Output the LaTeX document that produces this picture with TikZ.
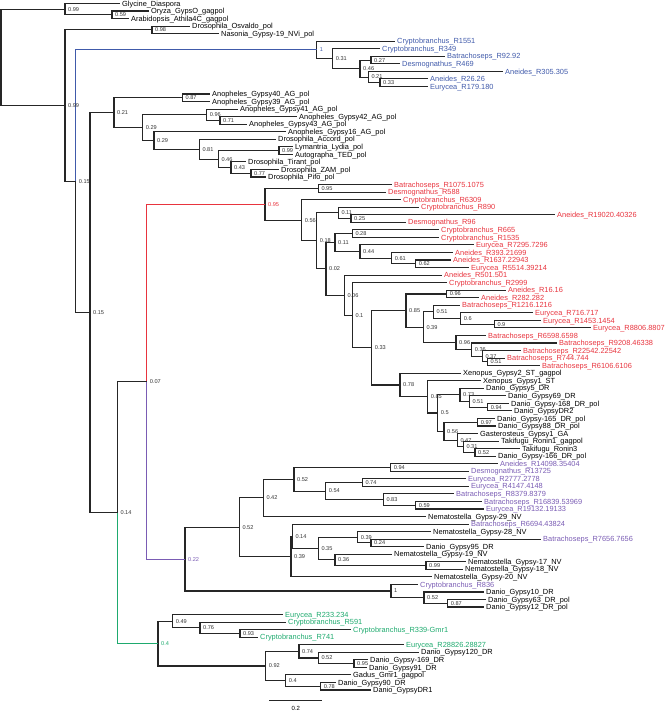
\documentclass[tikz,border=0pt]{standalone}
\usepackage{fontspec}
\setmainfont{Liberation Sans}
\usetikzlibrary{calc}
\definecolor{blueC}{RGB}{64,90,170}
\definecolor{redC}{RGB}{232,52,62}
\definecolor{purpC}{RGB}{122,92,180}
\definecolor{greenC}{RGB}{30,170,110}
\tikzset{
  tree/.style={line width=1.1pt, black!85, line cap=rect},
  stem/.style={line width=0.9pt},
  leafl/.style={anchor=west, inner sep=0pt, xshift=3pt, font=\fontsize{7.4}{8}\selectfont, text height=5.3pt, text depth=0pt},
  nlab/.style={anchor=west, inner sep=0pt, xshift=3pt, font=\fontsize{5.6}{6}\selectfont, text=black!80},
}
% leaf: name, index, tip x, colour, text
\newcommand\leafn[5]{%
  \coordinate (#1) at (#3,#2);
  \node[leafl, text=#4] (#1t) at (#1) {#5};}
% internal node: name, x, child1, child2, label, label style
\newcommand\inod[6]{%
  \path let \p1=(#3), \p2=(#4) in coordinate (#1) at (#2pt,{0.5*(\y1+\y2)});
  \draw[tree] (#3) -| (#1) |- (#4);
  \node[nlab,#6] (#1l) at (#1) {#5};}
% internal node with coloured stems: ... , style to child1, style to child2
\newcommand\cnod[8]{%
  \path let \p1=(#3), \p2=(#4) in coordinate (#1) at (#2pt,{0.5*(\y1+\y2)});
  \draw[tree,#7] (#1) |- (#3);
  \draw[tree,#8] (#1) |- (#4);
  \node[nlab,#6] (#1l) at (#1) {#5};}
\begin{document}
\begin{tikzpicture}[x=1pt,y=-7.544pt]
\useasboundingbox (0,0.536) rectangle (667,94.78);
% ---------------- leaves
\leafn{L1}{1}{119}{black}{Glycine\_Diaspora}
\leafn{L2}{2}{148}{black}{Oryza\_GypsO\_gagpol}
\leafn{L3}{3}{128}{black}{Arabidopsis\_Athila4C\_gagpol}
\leafn{L4}{4}{189}{black}{Drosophila\_Osvaldo\_pol}
\leafn{L5}{5}{218}{black}{Nasonia\_Gypsy-19\_NVi\_pol}
\leafn{L6}{6}{394}{blueC}{Cryptobranchus\_R1551}
\leafn{L7}{7}{379}{blueC}{Cryptobranchus\_R349}
\leafn{L8}{8}{444}{blueC}{Batrachoseps\_R92.92}
\leafn{L9}{9}{399}{blueC}{Desmognathus\_R469}
\leafn{L10}{10}{502}{blueC}{Aneides\_R305.305}
\leafn{L11}{11}{427}{blueC}{Aneides\_R26.26}
\leafn{L12}{12}{427}{blueC}{Eurycea\_R179.180}
\leafn{L13}{13}{209}{black}{Anopheles\_Gypsy40\_AG\_pol}
\leafn{L14}{14}{209}{black}{Anopheles\_Gypsy39\_AG\_pol}
\leafn{L15}{15}{237}{black}{Anopheles\_Gypsy41\_AG\_pol}
\leafn{L16}{16}{296}{black}{Anopheles\_Gypsy42\_AG\_pol}
\leafn{L17}{17}{246}{black}{Anopheles\_Gypsy43\_AG\_pol}
\leafn{L18}{18}{285}{black}{Anopheles\_Gypsy16\_AG\_pol}
\leafn{L19}{19}{275}{black}{Drosophila\_Accord\_pol}
\leafn{L20}{20}{292}{black}{Lymantria\_Lydia\_pol}
\leafn{L21}{21}{292}{black}{Autographa\_TED\_pol}
\leafn{L22}{22}{245}{black}{Drosophila\_Tirant\_pol}
\leafn{L23}{23}{278}{black}{Drosophila\_ZAM\_pol}
\leafn{L24}{24}{265}{black}{Drosophila\_Pifo\_pol}
\leafn{L25}{25}{391}{redC}{Batrachoseps\_R1075.1075}
\leafn{L26}{26}{385}{redC}{Desmognathus\_R588}
\leafn{L27}{27}{400}{redC}{Cryptobranchus\_R6309}
\leafn{L28}{28}{418}{redC}{Cryptobranchus\_R890}
\leafn{L29}{29}{554}{redC}{Aneides\_R19020.40326}
\leafn{L30}{30}{405}{redC}{Desmognathus\_R96}
\leafn{L31}{31}{438}{redC}{Cryptobranchus\_R665}
\leafn{L32}{32}{438}{redC}{Cryptobranchus\_R1535}
\leafn{L33}{33}{473}{redC}{Eurycea\_R7295.7296}
\leafn{L34}{34}{452}{redC}{Aneides\_R393.21699}
\leafn{L35}{35}{450}{redC}{Aneides\_R1637.22943}
\leafn{L36}{36}{468}{redC}{Eurycea\_R5514.39214}
\leafn{L37}{37}{441}{redC}{Aneides\_R501.501}
\leafn{L38}{38}{446}{redC}{Cryptobranchus\_R2999}
\leafn{L39}{39}{505}{redC}{Aneides\_R16.16}
\leafn{L40}{40}{478}{redC}{Aneides\_R282.282}
\leafn{L41}{41}{459}{redC}{Batrachoseps\_R1216.1216}
\leafn{L42}{42}{532}{redC}{Eurycea\_R716.717}
\leafn{L43}{43}{540}{redC}{Eurycea\_R1453.1454}
\leafn{L44}{44}{590}{redC}{Eurycea\_R8806.8807}
\leafn{L45}{45}{485}{redC}{Batrachoseps\_R6598.6598}
\leafn{L46}{46}{556}{redC}{Batrachoseps\_R9208.46338}
\leafn{L47}{47}{520}{redC}{Batrachoseps\_R22542.22542}
\leafn{L48}{48}{504}{redC}{Batrachoseps\_R744.744}
\leafn{L49}{49}{539}{redC}{Batrachoseps\_R6106.6106}
\leafn{L50}{50}{460}{black}{Xenopus\_Gypsy2\_ST\_gagpol}
\leafn{L51}{51}{480}{black}{Xenopus\_Gypsy1\_ST}
\leafn{L52}{52}{483}{black}{Danio\_Gypsy5\_DR}
\leafn{L53}{53}{505}{black}{Danio\_Gypsy69\_DR}
\leafn{L54}{54}{508}{black}{Danio\_Gypsy-168\_DR\_pol}
\leafn{L55}{55}{511}{black}{Danio\_GypsyDR2}
\leafn{L56}{56}{494}{black}{Danio\_Gypsy-165\_DR\_pol}
\leafn{L57}{57}{495}{black}{Danio\_Gypsy88\_DR\_pol}
\leafn{L58}{58}{477}{black}{Gasterosteus\_Gypsy1\_GA}
\leafn{L59}{59}{498}{black}{Takifugu\_Ronin1\_gagpol}
\leafn{L60}{60}{519}{black}{Takifugu\_Ronin3}
\leafn{L61}{61}{495}{black}{Danio\_Gypsy-166\_DR\_pol}
\leafn{L62}{62}{497}{purpC}{Aneides\_R14098.35404}
\leafn{L63}{63}{468}{purpC}{Desmognathus\_R13725}
\leafn{L64}{64}{465}{purpC}{Eurycea\_R2777.2778}
\leafn{L65}{65}{468}{purpC}{Eurycea\_R4147.4148}
\leafn{L66}{66}{453}{purpC}{Batrachoseps\_R8379.8379}
\leafn{L67}{67}{481}{purpC}{Batrachoseps\_R16839.53969}
\leafn{L68}{68}{483}{purpC}{Eurycea\_R19132.19133}
\leafn{L69}{69}{425}{black}{Nematostella\_Gypsy-29\_NV}
\leafn{L70}{70}{468}{purpC}{Batrachoseps\_R6694.43824}
\leafn{L71}{71}{430}{black}{Nematostella\_Gypsy-28\_NV}
\leafn{L72}{72}{540}{purpC}{Batrachoseps\_R7656.7656}
\leafn{L73}{73}{423}{black}{Danio\_Gypsy95\_DR}
\leafn{L74}{74}{391}{black}{Nematostella\_Gypsy-19\_NV}
\leafn{L75}{75}{465}{black}{Nematostella\_Gypsy-17\_NV}
\leafn{L76}{76}{462}{black}{Nematostella\_Gypsy-18\_NV}
\leafn{L77}{77}{431}{black}{Nematostella\_Gypsy-20\_NV}
\leafn{L78}{78}{417}{purpC}{Cryptobranchus\_R836}
\leafn{L79}{79}{483}{black}{Danio\_Gypsy10\_DR}
\leafn{L80}{80}{485}{black}{Danio\_Gypsy63\_DR\_pol}
\leafn{L81}{81}{483}{black}{Danio\_Gypsy12\_DR\_pol}
\leafn{L82}{82}{282}{greenC}{Eurycea\_R233.234}
\leafn{L83}{83}{285}{greenC}{Cryptobranchus\_R591}
\leafn{L84}{84}{350}{greenC}{Cryptobranchus\_R339-Gmr1}
\leafn{L85}{85}{257}{greenC}{Cryptobranchus\_R741}
\leafn{L86}{86}{403}{greenC}{Eurycea\_R28826.28827}
\leafn{L87}{87}{418}{black}{Danio\_Gypsy120\_DR}
\leafn{L88}{88}{367}{black}{Danio\_Gypsy-169\_DR}
\leafn{L89}{89}{366}{black}{Danio\_Gypsy91\_DR}
\leafn{L90}{90}{350}{black}{Gadus\_Gmr1\_gagpol}
\leafn{L91}{91}{335}{black}{Danio\_Gypsy90\_DR}
\leafn{L92}{92}{370}{black}{Danio\_GypsyDR1}
% ---------------- outgroups
\inod{nA2}{112}{L2}{L3}{0.59}{}
\inod{nA}{65}{L1}{nA2}{0.99}{}
\inod{nB1}{152}{L4}{L5}{0.98}{}
% ---------------- blue clade
\inod{b33}{380}{L11}{L12}{0.33}{}
\inod{b21}{368.3}{L10}{b33}{0.21}{}
\inod{b27}{371}{L8}{L9}{0.27}{}
\inod{b46}{360}{b27}{b21}{0.46}{}
\inod{b31}{332.7}{L7}{b46}{0.31}{}
\inod{bR}{316.7}{L6}{b31}{1}{text=blueC}
% ---------------- insects
\inod{iG}{182.5}{L13}{L14}{0.87}{}
\inod{i71}{220}{L16}{L17}{0.71}{}
\inod{i96}{206.7}{L15}{i71}{0.96}{}
\inod{i77}{251}{L23}{L24}{0.77}{}
\inod{i43}{231}{L22}{i77}{0.43}{}
\inod{i99}{279}{L20}{L21}{0.99}{}
\inod{i46}{218.3}{i99}{i43}{0.46}{}
\inod{i81}{199.3}{L19}{i46}{0.81}{}
\inod{iH2}{154}{L18}{i81}{0.29}{}
\inod{iH}{142.7}{i96}{iH2}{0.29}{}
\inod{iE}{114}{iG}{iH}{0.21}{}
% ---------------- red clade
\inod{r95}{318.3}{L25}{L26}{0.95}{}
\inod{r25}{351}{L29}{L30}{0.25}{}
\inod{r11a}{338.3}{L28}{r25}{0.11}{}
\inod{r28}{352.3}{L31}{L32}{0.28}{}
\inod{r62}{415.7}{L35}{L36}{0.62}{}
\inod{r61}{391.7}{L34}{r62}{0.61}{}
\inod{r44}{360}{L33}{r61}{0.44}{}
\inod{r11b}{335}{r28}{r44}{0.11}{}
\inod{r96a}{446.7}{L39}{L40}{0.96}{}
\inod{r09}{494.3}{L43}{L44}{0.9}{}
\inod{r06}{460.7}{L42}{r09}{0.6}{}
\inod{r51}{433.3}{L41}{r06}{0.51}{}
\inod{r51b}{487.3}{L48}{L49}{0.51}{}
\inod{r37}{482.3}{L47}{r51b}{0.37}{}
\inod{r36}{471.7}{L46}{r37}{0.36}{}
\inod{r96b}{456}{L45}{r36}{0.96}{}
\inod{r39}{423.3}{r51}{r96b}{0.39}{}
\inod{r85}{406}{r96a}{r39}{0.85}{}
\inod{k94}{487.7}{L54}{L55}{0.94}{}
\inod{k51}{469.3}{L53}{k94}{0.51}{}
\inod{k73}{460}{L52}{k51}{0.73}{}
\inod{k97}{477.7}{L56}{L57}{0.97}{}
\inod{k52}{475}{L60}{L61}{0.52}{}
\inod{k31}{463.3}{L59}{k52}{0.31}{}
\inod{k47}{457.3}{L58}{k31}{0.47}{}
\inod{k56}{444}{k97}{k47}{0.56}{}
\inod{k05}{437.7}{k73}{k56}{0.5}{}
\inod{k85}{427.7}{L51}{k05}{0.85}{}
\inod{k78}{400}{L50}{k85}{0.78}{}
\inod{r33}{371.7}{r85}{k78}{0.33}{}
\inod{r01}{352.3}{L38}{r33}{0.1}{}
\inod{r06b}{344.3}{L37}{r01}{0.06}{}
\inod{r02}{326}{r11b}{r06b}{0.02}{}
\inod{r18}{316.7}{r11a}{r02}{0.18}{}
\inod{r56}{301.7}{L27}{r18}{0.56}{}
\inod{rR}{265}{r95}{r56}{0.95}{text=redC}
% ---------------- purple clade
\inod{p94}{390.7}{L62}{L63}{0.94}{}
\inod{p74}{362.3}{L64}{L65}{0.74}{}
\inod{p59}{415.7}{L67}{L68}{0.59}{}
\inod{p83}{383.3}{L66}{p59}{0.83}{}
\inod{p54}{325.7}{p74}{p83}{0.54}{}
\inod{p52r}{294}{p94}{p54}{0.52}{}
\inod{p42}{263.3}{p52r}{L69}{0.42}{}
\inod{p24}{371}{L72}{L73}{0.24}{}
\inod{p39c}{357.7}{L71}{p24}{0.39}{}
\inod{p99}{426}{L75}{L76}{0.99}{}
\inod{p36}{335}{L74}{p99}{0.36}{}
\inod{p35}{318.3}{p39c}{p36}{0.35}{}
\inod{p14}{292.3}{L70}{p35}{0.14}{}
\inod{p39b}{291}{p14}{L77}{0.39}{}
\inod{p52p}{239.3}{p42}{p39b}{0.52}{}
\inod{p87}{447.7}{L80}{L81}{0.87}{}
\inod{p52q}{424}{L79}{p87}{0.52}{}
\inod{p1}{391}{L78}{p52q}{1}{}
\inod{pR}{185}{p52p}{p1}{0.22}{text=purpC}
% ---------------- green clade
\inod{g93}{240}{L84}{L85}{0.93}{}
\inod{g76}{200}{L83}{g93}{0.76}{}
\inod{g49}{172.7}{L82}{g76}{0.49}{}
\inod{g95}{354}{L88}{L89}{0.95}{}
\inod{g52}{318.3}{L87}{g95}{0.52}{}
\inod{g74}{299}{L86}{g52}{0.74}{}
\inod{g78}{320.7}{L91}{L92}{0.78}{}
\inod{g04}{285.7}{L90}{g78}{0.4}{}
\inod{g92}{265.7}{g74}{g04}{0.92}{}
\inod{gR}{158}{g49}{g92}{0.4}{text=greenC}
% ---------------- backbone
\cnod{nI}{146.7}{rR}{pR}{0.07}{}{redC,stem}{purpC,stem}
\cnod{nF}{117.3}{nI}{gR}{0.14}{}{}{greenC,stem}
\inod{nD}{90}{iE}{nF}{0.15}{}
\cnod{nC}{75.7}{bR}{nD}{0.15}{}{blueC,stem}{}
\inod{nB}{65}{nB1}{nC}{0.99}{}
\inod{root}{1}{nA}{nB}{}{}
% ---------------- scale bar
\coordinate (sbA) at (270,93.42);
\coordinate (sbB) at (321.7,93.42);
\draw[tree] (sbA) -- (sbB);
\node[font=\fontsize{6}{7}\selectfont, inner sep=0pt] (sbL) at ($(sbA)!0.5!(sbB)+(0,0.97)$) {0.2};
\end{tikzpicture}
\end{document}
